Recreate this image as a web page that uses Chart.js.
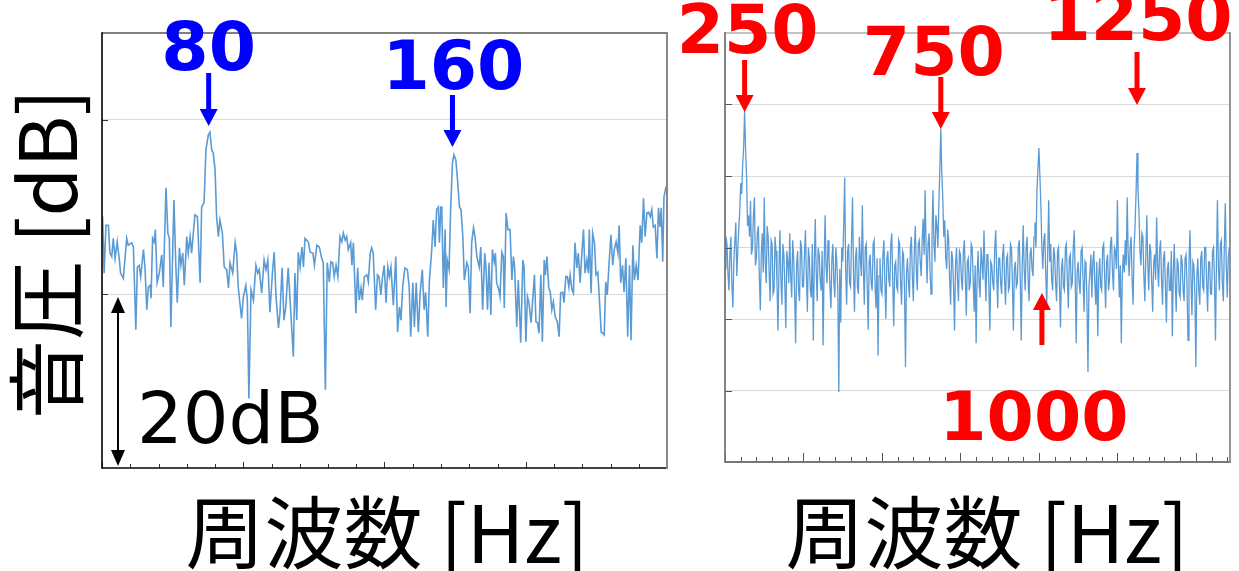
<!DOCTYPE html>
<html lang="ja">
<head>
<meta charset="utf-8">
<title>音圧スペクトル</title>
<script src="https://cdn.jsdelivr.net/npm/chart.js@4/dist/chart.umd.min.js"></script>
<style>
  html, body { margin: 0; padding: 0; background: #fff; }
  #wrap { position: relative; width: 1239px; height: 571px; overflow: hidden; }
  #wrap canvas { position: absolute; top: 0; }
  #left-chart { left: 0; }
  #right-chart { left: 672px; }
</style>
</head>
<body>
<div id="wrap">
  <canvas id="left-chart" width="672" height="571"></canvas>
  <canvas id="right-chart" width="567" height="571"></canvas>
</div>
<script>
// ── Data: left spectrum (low range) ───────────────────────────────────────
// frequency [Hz] and level [dB, relative to panel floor]

const L_FREQ = [
  45.2, 45.7, 46.3, 47.1, 47.6, 48.2, 48.7, 49.3, 50.0, 50.7,
  51.1, 52.0, 53.1, 53.6, 54.7, 55.3, 56.1, 56.6, 57.2, 57.7,
  58.6, 59.1, 59.7, 60.2, 60.8, 61.1, 61.6, 62.1, 62.5, 63.1,
  63.8, 64.6, 65.1, 66.0, 66.6, 67.1, 67.6, 68.6, 69.2, 69.7,
  70.4, 70.9, 71.5, 72.0, 72.8, 73.3, 73.9, 74.4, 75.5, 76.3,
  77.2, 77.7, 78.5, 79.1, 79.9, 80.4, 81.0, 81.5, 82.1, 82.6,
  83.2, 83.7, 84.5, 85.1, 85.9, 86.5, 87.0, 87.9, 88.7, 89.2,
  89.7, 90.8, 91.4, 92.2, 92.7, 93.2, 93.9, 94.7, 95.5, 96.1,
  96.6, 97.4, 98.2, 98.8, 99.4, 100.1, 101.0, 101.5, 102.1, 102.9,
  103.4, 104.1, 104.7, 105.3, 106.1, 106.9, 107.8, 108.3, 108.9, 109.4,
  110.0, 110.6, 111.1, 111.6, 112.7, 113.3, 114.2, 114.7, 115.5, 116.3,
  117.1, 117.6, 118.3, 118.9, 119.6, 120.1, 120.7, 121.2, 121.8, 122.4,
  123.1, 123.7, 124.2, 124.8, 125.3, 125.8, 126.6, 127.0, 127.5, 128.3,
  128.9, 129.4, 130.0, 130.4, 131.1, 131.9, 132.4, 133.0, 133.5, 134.0,
  134.8, 135.4, 135.9, 136.5, 137.0, 137.6, 138.2, 138.8, 139.3, 139.8,
  140.6, 141.4, 142.0, 142.6, 143.1, 143.7, 144.4, 145.2, 145.8, 146.3,
  147.0, 147.5, 148.1, 148.8, 149.4, 150.1, 150.7, 151.2, 151.9, 152.4,
  153.2, 153.7, 154.3, 154.8, 155.4, 155.7, 156.2, 156.5, 157.0, 157.6,
  157.9, 158.3, 158.9, 159.4, 160.0, 160.5, 161.1, 161.6, 162.3, 162.8,
  163.4, 163.9, 164.7, 165.2, 165.8, 166.3, 166.9, 167.4, 168.0, 168.8,
  169.3, 169.9, 170.6, 171.0, 171.5, 172.0, 172.6, 173.1, 173.7, 174.1,
  174.5, 175.2, 175.6, 176.2, 176.7, 177.0, 177.6, 178.2, 178.9, 179.5,
  180.0, 180.4, 181.1, 181.6, 182.4, 183.1, 183.5, 184.1, 184.6, 185.1,
  185.8, 186.4, 186.9, 187.4, 187.9, 188.4, 189.0, 189.5, 190.1, 190.5,
  191.0, 191.6, 192.1, 192.6, 193.1, 193.7, 194.4, 195.0, 195.5, 196.2,
  196.6, 197.2, 197.7, 198.2, 198.6, 199.2, 199.7, 200.2, 200.8, 201.3,
  201.9, 202.4, 203.0, 203.5, 204.1, 204.6, 204.9, 205.5, 206.0, 206.6,
  207.1, 207.7, 208.2, 208.8, 209.3, 209.8, 210.3, 210.8, 211.4, 212.0,
  212.6, 213.1, 213.7, 214.3, 214.7, 215.2, 215.8, 216.3, 216.9, 217.5,
  218.1, 218.6, 219.2, 219.7, 220.3, 220.9, 221.6, 222.1, 222.7, 223.2,
  223.8, 224.3, 224.9, 225.4, 225.9, 226.5, 227.1, 227.6, 228.1, 228.5,
  229.0, 229.4, 230.0, 230.4,
];

const L_LEVEL = [
  28.9, 22.4, 27.9, 27.9, 24.7, 24.3, 26.4, 24.1, 26.0, 23.9,
  22.4, 21.8, 26.4, 25.6, 25.9, 25.4, 15.9, 23.1, 23.3, 22.0,
  25.1, 23.1, 18.2, 20.8, 21.0, 19.5, 26.4, 26.0, 27.4, 21.3,
  22.4, 24.5, 20.8, 32.2, 27.0, 26.4, 16.2, 30.8, 23.6, 19.0,
  25.3, 23.3, 24.7, 21.0, 26.6, 24.7, 26.6, 24.7, 29.1, 28.9,
  21.3, 30.0, 30.5, 36.6, 38.3, 38.6, 36.6, 36.2, 34.3, 28.9,
  26.6, 28.5, 27.0, 23.1, 22.8, 20.7, 23.6, 22.4, 25.9, 24.7,
  20.8, 17.2, 19.7, 21.0, 19.3, 8.0, 20.5, 19.3, 23.3, 22.4,
  22.8, 20.1, 23.9, 22.8, 23.9, 17.9, 22.8, 24.8, 19.7, 16.1,
  17.8, 23.0, 17.0, 18.5, 23.0, 18.2, 12.8, 22.4, 17.0, 24.8,
  23.1, 25.4, 23.1, 26.4, 26.0, 24.8, 24.7, 23.3, 25.6, 25.4,
  24.1, 23.6, 9.0, 23.6, 21.4, 23.7, 23.6, 22.0, 23.3, 22.0,
  26.6, 26.0, 27.0, 26.2, 26.6, 25.1, 25.9, 23.3, 25.9, 17.8,
  23.0, 19.3, 20.7, 19.3, 22.0, 22.2, 21.4, 24.7, 25.3, 24.7,
  18.2, 22.2, 22.0, 19.9, 21.8, 23.3, 19.0, 23.1, 22.0, 23.1,
  18.7, 24.3, 15.6, 18.5, 17.0, 21.0, 23.0, 22.8, 20.8, 15.1,
  21.3, 16.2, 21.3, 15.6, 20.1, 22.8, 18.2, 20.2, 15.1, 21.3,
  25.1, 28.5, 25.4, 29.7, 30.0, 25.9, 30.0, 30.0, 20.7, 27.4,
  18.5, 23.9, 22.8, 29.7, 35.1, 36.0, 35.4, 33.4, 30.0, 29.7,
  26.6, 21.6, 23.6, 23.1, 17.8, 25.9, 27.6, 26.6, 24.3, 23.1,
  25.4, 18.2, 24.7, 23.1, 18.2, 23.6, 17.6, 25.1, 23.7, 24.7,
  21.3, 20.5, 19.7, 24.8, 24.3, 18.4, 29.3, 27.4, 27.4, 21.6,
  24.3, 23.1, 16.2, 21.6, 14.4, 23.9, 23.1, 14.5, 19.7, 19.0,
  16.7, 19.7, 22.2, 16.8, 16.7, 15.5, 22.2, 14.5, 23.9, 22.2,
  24.3, 20.7, 20.2, 18.2, 19.1, 17.4, 16.8, 15.1, 20.1, 20.2,
  19.0, 22.0, 22.0, 20.8, 22.2, 20.5, 20.1, 25.9, 23.0, 24.7,
  21.3, 24.3, 27.4, 22.4, 23.9, 22.4, 27.4, 20.1, 27.0, 25.9,
  22.2, 22.5, 19.5, 15.6, 15.5, 15.3, 21.4, 19.9, 23.6, 26.8,
  23.3, 25.1, 26.0, 24.7, 27.9, 21.3, 23.3, 20.2, 24.1, 15.1,
  23.3, 14.7, 25.6, 21.6, 23.3, 21.6, 27.9, 25.9, 31.0, 26.6,
  29.3, 29.4, 28.9, 29.7, 27.7, 27.9, 24.1, 29.9, 27.7, 29.9,
  23.7, 31.1, 32.2, 32.0,
];

// ── Data: right spectrum (wide range) ─────────────────────────────────────
// evenly spaced FFT bins from 200 Hz, 2.5 Hz apart; one row = 50 Hz

const R_BIN_START = 200;
const R_BIN_WIDTH = 2.5;

const R_LEVEL = [
  27.0, 31.5, 30.5, 26.5, 24.0, 29.0, 31.5, 25.0, 21.6, 28.0, 30.8, 33.5, 26.0, 29.5, 32.5, 35.0, 39.0, 37.5, 41.5, 44.0,
  49.2, 43.5, 40.0, 33.0, 34.5, 31.5, 36.5, 29.0, 30.0, 34.5, 37.0, 27.5, 28.5, 32.0, 33.0, 26.0, 21.2, 29.0, 32.0, 26.5,
  37.0, 28.0, 25.0, 33.0, 31.5, 26.5, 22.5, 31.0, 30.5, 23.5, 24.0, 31.5, 29.5, 25.0, 18.4, 27.0, 32.4, 25.5, 22.0, 30.5,
  29.0, 24.5, 18.7, 29.5, 28.0, 25.0, 32.0, 26.0, 23.0, 31.0, 28.5, 23.5, 16.6, 27.5, 29.5, 24.0, 22.5, 31.0, 30.0, 24.5,
  24.5, 29.0, 32.4, 26.0, 21.0, 30.0, 28.5, 24.0, 23.0, 30.5, 17.0, 27.5, 34.0, 26.5, 22.5, 30.0, 29.0, 25.5, 24.0, 29.5,
  16.3, 27.0, 34.5, 27.5, 25.0, 31.0, 29.0, 24.5, 21.5, 28.5, 30.5, 25.0, 23.0, 30.0, 28.0, 24.0, 9.8, 27.0, 19.5, 30.0,
  28.0, 33.0, 39.8, 27.0, 22.0, 29.5, 30.5, 25.0, 24.5, 31.0, 37.0, 26.5, 21.0, 28.5, 30.0, 24.5, 23.5, 31.5, 28.5, 26.0,
  35.9, 27.5, 22.0, 30.0, 30.5, 24.5, 18.5, 28.0, 29.0, 25.0, 24.0, 30.5, 31.0, 24.5, 21.5, 28.5, 14.9, 26.0, 28.5, 24.0,
  23.5, 29.0, 31.0, 25.0, 20.0, 28.5, 29.5, 25.5, 24.5, 30.5, 32.0, 25.0, 19.0, 27.5, 28.0, 24.5, 24.0, 31.0, 30.5, 25.0,
  22.0, 29.5, 29.0, 24.0, 13.3, 26.5, 28.5, 25.0, 23.0, 30.0, 31.5, 26.0, 22.5, 29.5, 33.0, 27.0, 24.0, 30.5, 31.0, 28.0,
  26.0, 31.0, 34.0, 29.0, 38.0, 30.0, 25.0, 30.5, 32.0, 27.0, 23.5, 31.5, 38.0, 30.5, 28.0, 34.5, 33.0, 30.0, 36.0, 41.0,
  46.6, 40.5, 37.0, 31.5, 33.8, 28.5, 27.0, 32.5, 31.0, 25.5, 22.0, 29.5, 28.5, 24.5, 18.4, 27.5, 30.0, 25.5, 22.5, 29.5,
  29.0, 25.5, 24.0, 29.5, 31.0, 26.0, 20.5, 28.0, 28.5, 24.0, 25.0, 30.5, 30.0, 25.5, 21.0, 27.5, 16.6, 26.0, 29.5, 25.0,
  23.0, 30.0, 28.0, 25.5, 32.4, 27.0, 22.5, 29.0, 29.0, 24.5, 18.4, 28.0, 27.5, 25.0, 24.0, 30.0, 32.4, 26.5, 21.5, 28.5,
  28.5, 25.0, 23.5, 29.0, 30.5, 25.5, 22.0, 28.5, 29.0, 24.0, 24.5, 30.5, 30.0, 25.0, 18.4, 27.0, 28.0, 24.5, 25.0, 30.0,
  31.0, 25.5, 17.0, 27.5, 33.1, 27.0, 24.0, 30.0, 31.5, 25.5, 22.5, 29.0, 30.0, 27.0, 26.0, 31.5, 33.5, 30.0, 38.0, 41.0,
  43.9, 40.0, 36.0, 30.0, 27.0, 31.0, 32.0, 26.0, 22.0, 29.5, 36.6, 28.0, 30.5, 25.5, 24.0, 30.0, 29.0, 25.0, 22.5, 29.5,
  30.0, 24.5, 18.8, 27.0, 28.5, 24.5, 24.0, 30.0, 30.5, 25.5, 21.5, 28.5, 29.0, 24.5, 25.0, 30.0, 32.4, 26.0, 16.6, 26.5,
  28.0, 25.0, 23.5, 29.5, 30.0, 25.5, 21.0, 28.0, 27.5, 22.5, 12.6, 24.5, 26.5, 29.0, 23.0, 28.0, 29.5, 25.0, 22.0, 28.0,
  17.6, 26.0, 28.5, 24.5, 24.0, 30.0, 30.5, 26.0, 21.5, 28.0, 29.0, 24.0, 25.5, 30.5, 31.5, 26.5, 24.0, 30.0, 29.5, 27.0,
  36.6, 28.0, 23.0, 27.5, 16.6, 26.0, 29.0, 26.5, 31.0, 27.5, 37.0, 29.0, 26.0, 30.0, 31.5, 25.5, 22.0, 30.0, 33.0, 37.5,
  43.2, 38.0, 35.0, 29.5, 27.5, 32.0, 31.5, 26.0, 22.5, 29.0, 34.5, 27.5, 24.0, 30.5, 29.5, 25.0, 21.0, 28.0, 29.0, 25.5,
  34.2, 27.5, 24.5, 29.5, 31.0, 25.5, 22.0, 28.5, 29.5, 24.5, 19.5, 27.0, 28.0, 24.0, 24.0, 29.5, 17.6, 26.5, 30.5, 25.0,
  21.0, 28.5, 27.5, 23.5, 23.0, 29.0, 28.0, 24.0, 22.5, 28.5, 29.0, 24.5, 17.0, 28.0, 32.4, 26.0, 20.5, 28.0, 27.5, 23.5,
  13.3, 26.0, 28.5, 24.0, 22.0, 28.5, 29.5, 24.5, 24.0, 30.0, 30.0, 25.0, 21.0, 28.0, 28.0, 23.5, 23.5, 29.5, 30.0, 25.5,
  17.0, 28.0, 36.6, 27.0, 24.0, 30.5, 31.0, 25.0, 22.5, 30.0, 36.2, 27.5, 23.0, 28.5, 30.0,
];

// ── Axes ──────────────────────────────────────────────────────────────────

const L_X_RANGE = [45, 230.4];      // 20 minor divisions, major every 5
const L_Y_RANGE = [0, 50];
const L_Y_GRID  = [20, 40];

const R_X_RANGE = [200, 1487];
const R_X_STEP  = 40;               // minor tick, major every 200 Hz
const R_Y_RANGE = [0, 60];
const R_Y_GRID  = [10, 20, 30, 40, 50];

// ── Annotations ───────────────────────────────────────────────────────────

const L_PEAKS = [
  { hz: 80,  text: "80",  dx: 0, base: 70, from: 73, tip: 126 },
  { hz: 160, text: "160", dx: 1, base: 89, from: 95, tip: 147 },
];
const R_PEAKS = [
  { hz: 250,  text: "250",  dx: 3,   base: 53,  from: 60,  tip: 112 },
  { hz: 750,  text: "750",  dx: -7,  base: 75,  from: 77,  tip: 129 },
  { hz: 1000, text: "1000", dx: -8,  base: 440, from: 345, tip: 293, ax: 3 },
  { hz: 1250, text: "1250", dx: 1,   base: 40,  from: 52,  tip: 105 },
];

const LINE_COLOR = "#5b9bd5";
const GRID_COLOR = "#d9d9d9";
const TITLE_FONT = '79px "Noto Sans CJK JP", "Noto Sans CJK SC", sans-serif';
const PEAK_FONT  = 'bold 68px "DejaVu Sans", Verdana, sans-serif';
const NOTE_FONT  = '72px "DejaVu Sans", Verdana, sans-serif';

// ── Drawing helpers ───────────────────────────────────────────────────────

function line(ctx, x1, y1, x2, y2) {
  ctx.beginPath();
  ctx.moveTo(x1, y1);
  ctx.lineTo(x2, y2);
  ctx.stroke();
}

// vertical arrow with a filled head; works both downwards and upwards
function arrow(ctx, x, from, tip, color, shaft, headW, headH) {
  const dir = tip > from ? 1 : -1;
  const base = tip - dir * headH;
  ctx.strokeStyle = color;
  ctx.fillStyle = color;
  ctx.lineWidth = shaft;
  line(ctx, x, from, x, base);
  ctx.beginPath();
  ctx.moveTo(x - headW / 2, base);
  ctx.lineTo(x + headW / 2, base);
  ctx.lineTo(x, tip);
  ctx.closePath();
  ctx.fill();
}

function makeDecor(d) {
  return {
    id: "decor",
    afterDatasetsDraw(chart) {
      const { ctx, chartArea: a, scales: { x, y } } = chart;
      ctx.save();

      // inner tick marks
      ctx.strokeStyle = d.tickColor;
      ctx.lineWidth = 1;
      d.yTicks.forEach(v => {
        const py = Math.round(y.getPixelForValue(v)) + 0.5;
        line(ctx, a.left, py, a.left + d.yTickLen, py);
      });
      d.xTicks.forEach((v, k) => {
        const px = Math.round(x.getPixelForValue(v)) + 0.5;
        line(ctx, px, a.bottom, px, a.bottom - (k % 5 === 0 ? d.majorLen : d.minorLen));
      });

      // frame
      d.frame.forEach(([side, color, w]) => {
        ctx.strokeStyle = color;
        ctx.lineWidth = w;
        if (side === "top")    line(ctx, a.left, a.top, a.right, a.top);
        if (side === "bottom") line(ctx, a.left, a.bottom, a.right, a.bottom);
        if (side === "left")   line(ctx, a.left, a.top - w / 2, a.left, a.bottom + w / 2);
        if (side === "right")  line(ctx, a.right, a.top - w / 2, a.right, a.bottom + w / 2);
      });

      // peak labels
      d.peaks.forEach(p => {
        const px = x.getPixelForValue(p.hz) + (p.ax || 0);
        ctx.fillStyle = d.peakColor;
        ctx.font = PEAK_FONT;
        ctx.textAlign = "center";
        ctx.textBaseline = "alphabetic";
        ctx.fillText(p.text, px + p.dx, p.base);
        arrow(ctx, px, p.from, p.tip, d.peakColor, 5, 18, 17);
      });

      // axis titles
      ctx.fillStyle = "#000";
      ctx.font = TITLE_FONT;
      ctx.textAlign = "center";
      ctx.textBaseline = "middle";
      ctx.fillText("周波数 [Hz]", d.xTitleX, 533);
      if (d.yTitle) {
        ctx.translate(47, 254);
        ctx.rotate(-Math.PI / 2);
        ctx.fillText("音圧 [dB]", 0, 0);
        ctx.setTransform(1, 0, 0, 1, 0, 0);
      }

      // 20 dB scale bar
      if (d.scaleBar) {
        const top = y.getPixelForValue(20) + 3;
        const bot = y.getPixelForValue(0) - 2;
        ctx.strokeStyle = "#000";
        ctx.fillStyle = "#000";
        ctx.lineWidth = 2;
        line(ctx, 118, top + 14, 118, bot - 14);
        [[top, 1], [bot, -1]].forEach(([t, s]) => {
          ctx.beginPath();
          ctx.moveTo(118, t);
          ctx.lineTo(111, t + s * 16);
          ctx.lineTo(125, t + s * 16);
          ctx.closePath();
          ctx.fill();
        });
        ctx.font = NOTE_FONT;
        ctx.textAlign = "left";
        ctx.textBaseline = "alphabetic";
        ctx.fillText("20dB", 137, 443);
      }
      ctx.restore();
    },
  };
}

function spectrumChart(id, points, cfg) {
  return new Chart(document.getElementById(id), {
    type: "line",
    data: {
      datasets: [{
        data: points,
        borderColor: LINE_COLOR,
        borderWidth: cfg.lineWidth,
        pointRadius: 0,
        tension: 0,
        fill: false,
      }],
    },
    options: {
      responsive: false,
      animation: false,
      events: [],
      layout: { padding: cfg.padding },
      plugins: { legend: { display: false }, tooltip: { enabled: false } },
      scales: {
        x: {
          type: "linear", min: cfg.xRange[0], max: cfg.xRange[1],
          ticks: { display: false },
          grid: { display: false, drawTicks: false },
          border: { display: false },
        },
        y: {
          min: cfg.yRange[0], max: cfg.yRange[1],
          afterBuildTicks: s => { s.ticks = cfg.yGrid.map(v => ({ value: v })); },
          ticks: { display: false },
          grid: { color: GRID_COLOR, lineWidth: 1, drawTicks: false },
          border: { display: false },
        },
      },
    },
    plugins: [makeDecor(cfg.decor)],
  });
}

// ── Build ─────────────────────────────────────────────────────────────────

const lStep = (L_X_RANGE[1] - L_X_RANGE[0]) / 20;
const lTicks = Array.from({ length: 21 }, (_, k) => L_X_RANGE[0] + k * lStep);
const rTicks = [];
for (let v = R_X_RANGE[0]; v <= R_X_RANGE[1]; v += R_X_STEP) rTicks.push(v);

const lPoints = L_FREQ.map((f, i) => ({ x: f, y: L_LEVEL[i] }));
const rPoints = R_LEVEL.map((v, i) => ({ x: R_BIN_START + i * R_BIN_WIDTH, y: v }));

spectrumChart("left-chart", lPoints, {
  lineWidth: 1.6,
  padding: { left: 102, top: 33, right: 5, bottom: 103 },
  xRange: L_X_RANGE, yRange: L_Y_RANGE, yGrid: L_Y_GRID,
  decor: {
    tickColor: "#333", yTicks: L_Y_GRID, yTickLen: 6,
    xTicks: lTicks, minorLen: 4, majorLen: 6,
    frame: [["top", "#000", 1.2], ["left", "#000", 1.6], ["bottom", "#000", 1.6], ["right", "#888", 2]],
    peaks: L_PEAKS, peakColor: "#0000ff",
    xTitleX: 387, yTitle: true, scaleBar: true,
  },
});

spectrumChart("right-chart", rPoints, {
  lineWidth: 1.3,
  padding: { left: 53, top: 33, right: 9, bottom: 109 },
  xRange: R_X_RANGE, yRange: R_Y_RANGE, yGrid: R_Y_GRID,
  decor: {
    tickColor: "#555", yTicks: R_Y_GRID, yTickLen: 7,
    xTicks: rTicks, minorLen: 5, majorLen: 9,
    frame: [["top", "#888", 1.2], ["left", "#777", 1.8], ["bottom", "#777", 1.8], ["right", "#888", 1.8]],
    peaks: R_PEAKS, peakColor: "#ff0000",
    xTitleX: 315, yTitle: false, scaleBar: false,
  },
});
</script>
</body>
</html>
